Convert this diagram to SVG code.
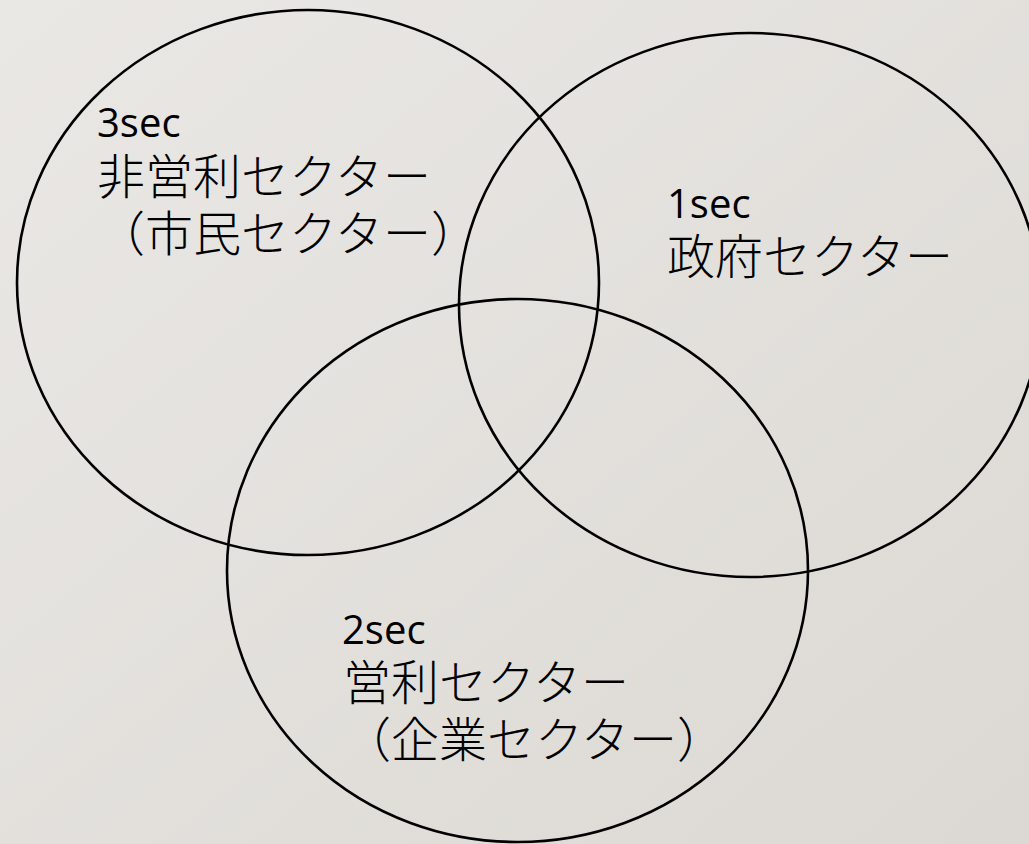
<svg xmlns="http://www.w3.org/2000/svg" width="1029" height="844" viewBox="0 0 1029 844">
  <defs>
    <linearGradient id="bg" x1="0" y1="0" x2="1" y2="1">
      <stop offset="0" stop-color="#eae8e5"/>
      <stop offset="1" stop-color="#dcd9d4"/>
    </linearGradient>
  </defs>
  <style>
    .ring { fill: none; stroke: #000; stroke-width: 2.6; }
    .lat { font-family: "Open Sans", "Noto Sans", sans-serif; font-size: 40px; font-weight: 500; fill: #000; }
    .jp { font-family: "Noto Sans CJK JP", "Noto Sans CJK SC", sans-serif; font-size: 48px; font-weight: 300; fill: #000; }
  </style>
  <rect x="0" y="0" width="1029" height="844" fill="url(#bg)"/>
  <g id="sec3">
    <ellipse class="ring" cx="308" cy="282.5" rx="291" ry="272.5"/>
    <text class="lat" x="97" y="137">3sec</text>
    <text class="jp" x="97" y="194">非営利セクター</text>
    <text class="jp" x="97" y="251">（市民セクター）</text>
  </g>
  <g id="sec1">
    <ellipse class="ring" cx="750" cy="305" rx="291" ry="272"/>
    <text class="lat" x="667" y="218">1sec</text>
    <text class="jp" x="667" y="274">政府セクター</text>
  </g>
  <g id="sec2">
    <ellipse class="ring" cx="517.5" cy="570.5" rx="290.5" ry="271.5"/>
    <text class="lat" x="342" y="644">2sec</text>
    <text class="jp" x="343" y="700">営利セクター</text>
    <text class="jp" x="343" y="757">（企業セクター）</text>
  </g>
  <g id="connectors"/>
</svg>
